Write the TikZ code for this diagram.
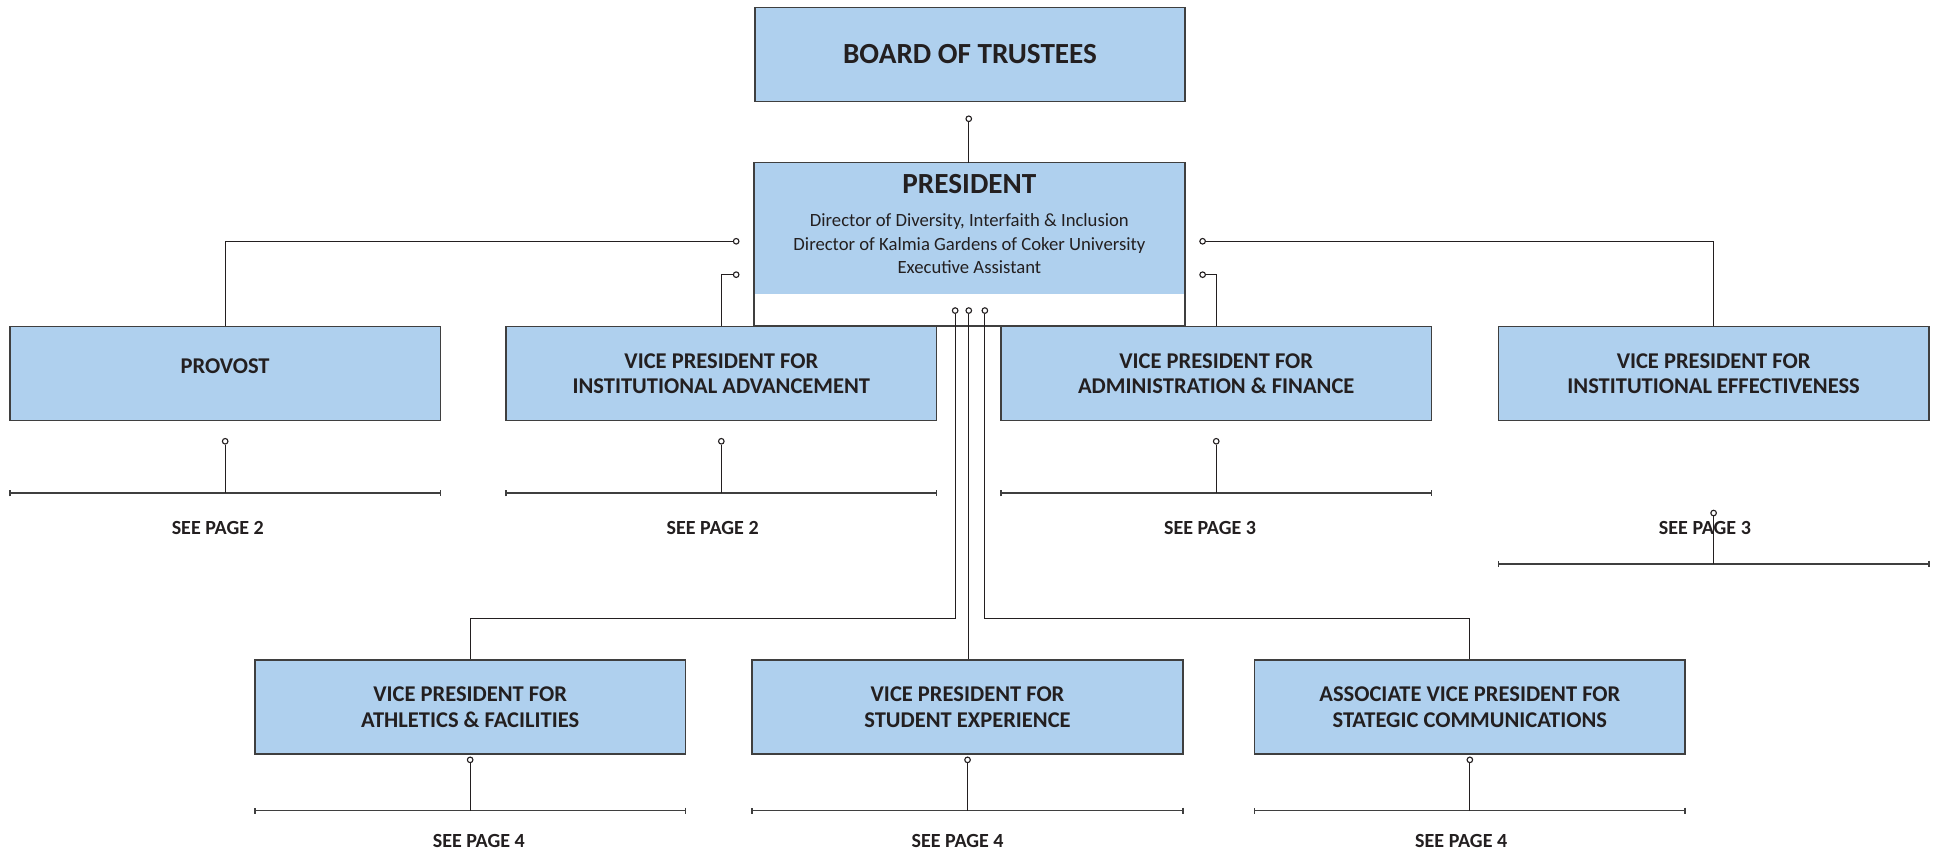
\documentclass[tikz,border=0pt]{standalone}
\usepackage{fontspec}
\setmainfont{Carlito}
\usepackage{tikz}
\usetikzlibrary{arrows.meta,calc}

\definecolor{boxblue}{HTML}{AFD0EE}
\definecolor{boxline}{HTML}{3F3F3F}
\definecolor{ink}{HTML}{231F20}

\tikzset{
  office/.style={draw=boxline, line width=1.3pt, fill=boxblue, minimum width=348pt,
    minimum height=76pt, align=center, text=ink, font=\fontsize{18.2}{20.5}\selectfont\bfseries},
  dot/.style={circle, draw=ink, line width=0.9pt, fill=white, inner sep=0pt, minimum size=4.5pt},
  link/.style={draw=ink, line width=1pt},
  pagebar/.style={draw=boxline, line width=1.3pt, arrows={Bar[width=5pt]-Bar[width=5pt]}},
  seepage/.style={text=ink, font=\fontsize{16.2}{18}\selectfont\bfseries},
}

\begin{document}
\begin{tikzpicture}[x=1pt, y=-1pt]
  \useasboundingbox (0,0) rectangle (1568,689);

  % board and president
  \node[office, font=\fontsize{23.6}{26}\selectfont\bfseries] (board) at (784,44) {BOARD OF TRUSTEES};
  \node[office, draw=none, minimum width=347pt, minimum height=106pt, text depth=8pt,
    font=\fontsize{15.1}{19}\selectfont] (pres) at (783.5,185)
    {{\fontsize{23.6}{26}\selectfont\bfseries PRESIDENT}\\[8pt]
     Director of Diversity, Interfaith \& Inclusion\\
     Director of Kalmia Gardens of Coker University\\
     Executive Assistant};

  % first row
  \node[office] (prov) at (182,302) {\smash{PROVOST}};
  \node[office] (ia) at (583,302) {VICE PRESIDENT FOR\\INSTITUTIONAL ADVANCEMENT};
  \node[office] (af) at (983,302) {VICE PRESIDENT FOR\\ADMINISTRATION \& FINANCE};
  \node[office] (ie) at (1385,302) {VICE PRESIDENT FOR\\INSTITUTIONAL EFFECTIVENESS};
  \draw[boxline, line width=1.3pt] (pres.north west) rectangle (pres.east |- ia.north);

  % second row
  \node[office] (ath) at (380,571.5) {VICE PRESIDENT FOR\\ATHLETICS \& FACILITIES};
  \node[office] (stu) at (782,571.5) {VICE PRESIDENT FOR\\STUDENT EXPERIENCE};
  \node[office] (asc) at (1188,571.5) {ASSOCIATE VICE PRESIDENT FOR\\STATEGIC COMMUNICATIONS};

  % connectors
  \node[dot] (dpres) at (783,96) {};
  \node[dot] (dprov) at (595,195) {};
  \node[dot] (dia) at (595,222) {};
  \node[dot] (daf) at (972,222) {};
  \node[dot] (die) at (972,195) {};
  \node[dot] (dath) at (772,251) {};
  \node[dot] (dstu) at (783,251) {};
  \node[dot] (dasc) at (796,251) {};
  \coordinate (split) at (783,500);

  \draw[link] (dpres) -- (dpres |- pres.north);
  \draw[link] (dprov) -| (prov);
  \draw[link] (dia) -| (ia);
  \draw[link] (daf) -| (af);
  \draw[link] (die) -| (ie);
  \draw[link] (dath) -- (dath |- split) -| (ath);
  \draw[link] (dstu) -- (dstu |- stu.north);
  \draw[link] (dasc) -- (dasc |- split) -| (asc);

  % see page bars
  \foreach \b/\dd/\bd in {prov/16/58, ia/16/58, af/16/58, ie/74/115, ath/4/45, stu/4/45, asc/4/45}{
    \node[dot] (dot-\b) at ($(\b.south)+(0,\dd)$) {};
    \coordinate (barl-\b) at ($(\b.south west)+(0,\bd)$);
    \coordinate (barr-\b) at ($(\b.south east)+(0,\bd)$);
    \draw[pagebar] (barl-\b) -- (barr-\b);
    \draw[link] (dot-\b) -- (dot-\b |- barl-\b);
  }

  \node[seepage] (sp-prov) at (176,427) {SEE PAGE 2};
  \node[seepage] (sp-ia) at (576,427) {SEE PAGE 2};
  \node[seepage] (sp-af) at (978,427) {SEE PAGE 3};
  \node[seepage] (sp-ie) at (1378,427) {SEE PAGE 3};
  \node[seepage] (sp-ath) at (387,680) {SEE PAGE 4};
  \node[seepage] (sp-stu) at (774,680) {SEE PAGE 4};
  \node[seepage] (sp-asc) at (1181,680) {SEE PAGE 4};
\end{tikzpicture}
\end{document}
